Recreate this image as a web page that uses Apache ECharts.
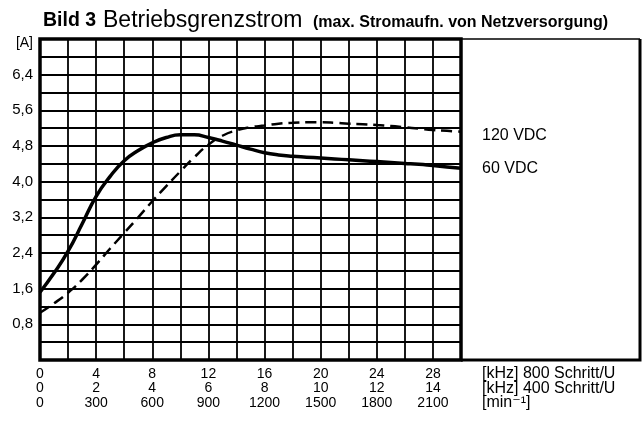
<!DOCTYPE html>
<html lang="de">
<head>
    <meta charset="UTF-8">
    <title>Bild 3 Betriebsgrenzstrom</title>
    <style>
        body { margin: 0; background: #fff; }
    </style>
</head>
<body>
<div id="main" style="width:644px;height:423px;"></div>

<script src="https://cdn.jsdelivr.net/npm/echarts@6/dist/echarts.min.js"></script>
<script>
    // Frequenz bei 800 Schritt/U [kHz]
    var freq = [0, 1, 2, 3, 4, 5, 6, 7, 8, 9, 10, 11, 12, 13, 14, 15, 16, 17, 18, 19, 20, 21, 22, 23, 24, 25, 26, 27, 28, 29, 30];
    // Stromaufnahme [A]
    var strom60 = [1.52, 1.95, 2.44, 3.05, 3.67, 4.12, 4.47, 4.70, 4.87, 4.99, 5.05, 5.05, 4.99, 4.91, 4.82, 4.73, 4.65, 4.60, 4.57, 4.55, 4.53, 4.51, 4.49, 4.47, 4.45, 4.43, 4.41, 4.39, 4.36, 4.33, 4.30];
    var strom120 = [1.06, 1.27, 1.51, 1.80, 2.14, 2.50, 2.85, 3.20, 3.56, 3.90, 4.23, 4.55, 4.83, 5.03, 5.15, 5.22, 5.26, 5.30, 5.32, 5.33, 5.33, 5.32, 5.30, 5.29, 5.27, 5.25, 5.22, 5.19, 5.16, 5.14, 5.12];
    var seriesNames = ['60 VDC', '120 VDC'];
    var axisNames = ['[kHz] 800 Schritt/U', '[kHz] 400 Schritt/U', '[min\u207B\u00B9]'];

    var font = "'Liberation Sans', Arial, 'DejaVu Sans', sans-serif";

    function pairs(ys) {
        return freq.map(function (x, i) { return [x, ys[i]]; });
    }

    var myChart = echarts.init(document.getElementById('main'));

    var bottomAxis = function (idx, max, interval, step, offset) {
        return {
            type: 'value',
            position: 'bottom',
            gridIndex: 0,
            min: 0,
            max: max,
            interval: interval,
            offset: offset,
            name: axisNames[idx],
            nameLocation: 'end',
            nameGap: 21,
            nameTextStyle: {
                color: '#000', fontFamily: font, fontSize: 16,
                verticalAlign: 'top', padding: [6, 0, 0, 0], lineHeight: 16
            },
            axisLine: {show: false},
            axisTick: {show: false},
            splitLine: idx === 0 ? {show: true, lineStyle: {color: '#000', width: 1.8}} : {show: false},
            axisLabel: {
                color: '#000', fontFamily: font, fontSize: 14, margin: 6, lineHeight: 16,
                showMaxLabel: true,
                formatter: function (v) {
                    var k = Math.round(v);
                    return k % step === 0 ? String(k) : '';
                }
            }
        };
    };

    myChart.setOption({
        backgroundColor: '#fff',
        animation: false,
        textStyle: {fontFamily: font},
        graphic: [
            {type: 'text', left: 43, top: 11, style: {text: 'Bild 3', font: 'bold 19.5px ' + font, fill: '#000'}},
            {type: 'text', left: 103, top: 9, style: {text: 'Betriebsgrenzstrom', font: '23px ' + font, fill: '#000'}},
            {type: 'text', left: 313, top: 15, style: {text: '(max. Stromaufn. von Netzversorgung)', font: 'bold 16px ' + font, fill: '#000'}},
            {type: 'polyline', shape: {points: [[461, 39], [640, 39]]}, style: {stroke: '#000', lineWidth: 1.5, fill: null}},
            {type: 'polyline', shape: {points: [[640, 39], [640, 360], [461, 360]]}, style: {stroke: '#000', lineWidth: 3, fill: null}}
        ],
        grid: {
            left: 40, top: 39, width: 421, height: 321,
            show: true, borderColor: '#000', borderWidth: 3.5, backgroundColor: 'transparent'
        },
        xAxis: [
            bottomAxis(0, 30, 2, 4, 0),
            bottomAxis(1, 15, 1, 2, 14.5),
            bottomAxis(2, 2250, 150, 300, 29)
        ],
        yAxis: {
            type: 'value',
            min: 0,
            max: 7.2,
            interval: 0.4,
            axisLine: {show: false},
            axisTick: {show: false},
            splitLine: {show: true, lineStyle: {color: '#000', width: 1.8}},
            axisLabel: {
                color: '#000', fontFamily: font, fontSize: 15, margin: 7,
                formatter: function (v) {
                    var k = Math.round(v * 10);
                    if (k === 72) return '{u|[A]}';
                    if (k > 0 && k % 8 === 0) return (k / 10).toFixed(1).replace('.', ',');
                    return '';
                },
                rich: {u: {fontSize: 14, fontFamily: font, color: '#000', padding: [8, 0, 0, 0]}}
            }
        },
        series: [
            {
                name: seriesNames[0],
                type: 'line',
                smooth: 0.5,
                symbol: 'none',
                data: pairs(strom60),
                lineStyle: {color: '#000', width: 3.5},
                endLabel: {
                    show: true, formatter: function (p) { return p.seriesName; },
                    distance: 21, offset: [0, 0], color: '#000', fontFamily: font, fontSize: 16
                }
            },
            {
                name: seriesNames[1],
                type: 'line',
                smooth: 0.5,
                symbol: 'none',
                data: pairs(strom120),
                lineStyle: {color: '#000', width: 2.5, type: [11, 6]},
                endLabel: {
                    show: true, formatter: function (p) { return p.seriesName; },
                    distance: 21, offset: [0, 4], color: '#000', fontFamily: font, fontSize: 16
                }
            }
        ]
    });
</script>
</body>
</html>
